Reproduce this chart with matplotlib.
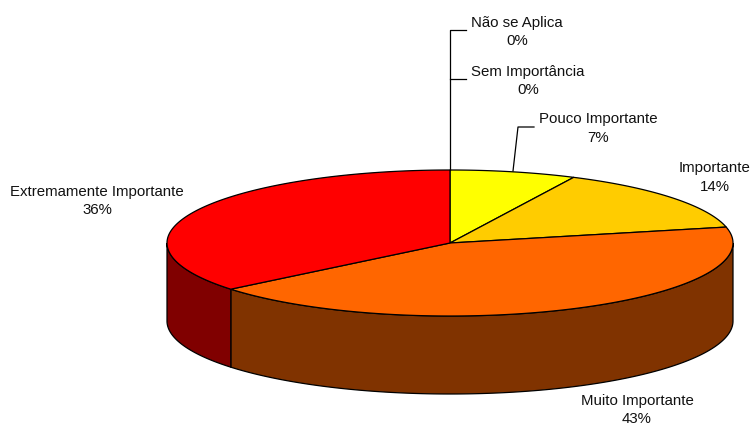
import numpy as np
import matplotlib
matplotlib.use("Agg")
import matplotlib.pyplot as plt

labels = ["Não se Aplica", "Sem Importância", "Pouco Importante", "Importante", "Muito Importante", "Extremamente Importante"]
values = [0, 0, 7.2, 14.3, 42.6, 35.9]
pct_labels = ["0%", "0%", "7%", "14%", "43%", "36%"]
top_colors = ["#FFFFFF", "#FFFFFF", "#FFFF00", "#FFCC00", "#FF6600", "#FF0000"]
side_colors = ["#808080", "#808080", "#808000", "#806600", "#803300", "#800000"]

W, H = 752, 426
CX, CY, RX, RY, DEPTH = 450, 243, 283, 73, 78
label_pos = [(517, 32), (528, 81), (598, 128.5), (715, 177.5), (637, 410), (97, 201)]

fig = plt.figure(figsize=(W / 100, H / 100), dpi=100, facecolor="white")
ax = fig.add_axes([0, 0, 1, 1])
ax.set_xlim(0, W)
ax.set_ylim(H, 0)
ax.axis("off")


def pt(a, dy=0):
    a = np.asarray(a)
    return CX + RX * np.sin(a), CY - RY * np.cos(a) + dy


fractions = np.array(values) / sum(values)
edges = np.concatenate([[0], np.cumsum(fractions)]) * 2 * np.pi

# side walls (visible front half only)
for i, (a0, a1) in enumerate(zip(edges[:-1], edges[1:])):
    lo, hi = max(a0, np.pi / 2), min(a1, 3 * np.pi / 2)
    if hi <= lo:
        continue
    t = np.linspace(lo, hi, 200)
    x, y = pt(t)
    x2, y2 = pt(t[::-1], DEPTH)
    ax.fill(np.r_[x, x2], np.r_[y, y2], facecolor=side_colors[i], edgecolor="black", lw=0.9, zorder=2)

# top wedges
for i, (a0, a1) in enumerate(zip(edges[:-1], edges[1:])):
    if a1 <= a0:
        continue
    t = np.linspace(a0, a1, 300)
    x, y = pt(t)
    ax.fill(np.r_[CX, x], np.r_[CY, y], facecolor=top_colors[i], edgecolor="black", lw=0.9, zorder=3)

# leader lines
ax.plot([466, 450, 450], [30, 30, 170], color="black", lw=0.9, zorder=4)
ax.plot([450, 466], [79, 79], color="black", lw=0.9, zorder=4)
ax.plot([534, 518, 513], [127, 127, 171], color="black", lw=0.9, zorder=4)

for lab, pct, (x, y) in zip(labels, pct_labels, label_pos):
    ax.text(x, y, f"{lab}\n{pct}", ha="center", va="center", fontsize=10.8,
            family="Liberation Sans", linespacing=1.42, color="#111111", zorder=5, clip_on=False)

fig.savefig("out.png", dpi=100, facecolor="white")
